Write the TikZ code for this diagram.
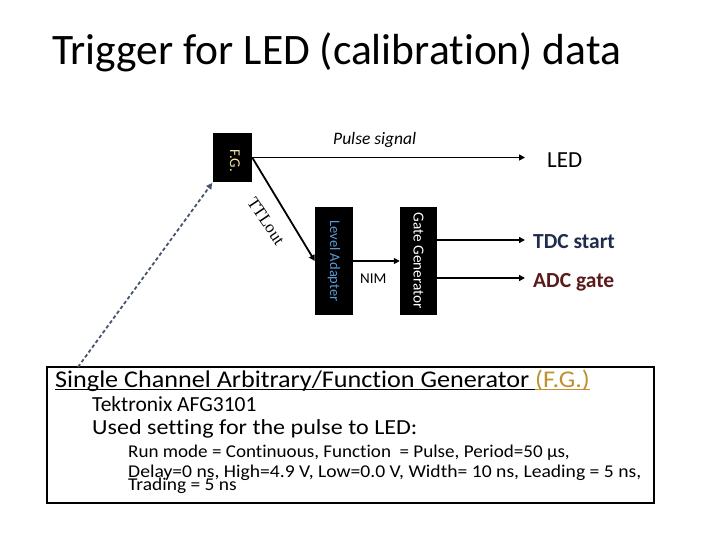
\documentclass[tikz,border=0pt]{standalone}
\usepackage{fontspec}
\setmainfont{Carlito}[Ligatures=NoCommon]
\newfontfamily\serifttl{Liberation Serif}
\usetikzlibrary{arrows.meta}
\definecolor{fgtext}{HTML}{F2E3A0}
\definecolor{latext}{HTML}{5B9BD5}
\definecolor{tdccol}{HTML}{1F2D4D}
\definecolor{adccol}{HTML}{5B1A1A}
\definecolor{goldcol}{HTML}{BF9030}
\definecolor{dashcol}{HTML}{44546A}
\tikzset{
  blackbox/.style={fill=black, draw=none, inner sep=0pt},
  arr/.style={line width=1.8pt, -{Triangle[length=6pt,width=6pt]}},
  plain/.style={inner sep=0pt, anchor=base west},
}
\newcommand{\fsz}[1]{\fontsize{#1}{#1}\selectfont}
\begin{document}
\begin{tikzpicture}[x=1pt,y=-1pt]
\useasboundingbox (0,0) rectangle (720,540);
% title
\node[plain] (title) at (52,65) {\fsz{43.5}Trigger for LED (calibration) data};
% boxes
\node[blackbox, minimum width=39pt, minimum height=49pt] (fg) at (232.5,157.5) {};
\node[inner sep=0pt] (fgl) at (235,161) {\rotatebox{-90}{\fsz{15}\color{fgtext}F.G.}};
\node[blackbox, minimum width=38pt, minimum height=108pt] (la) at (334,261)
  {\rotatebox{-90}{\fsz{14.5}\color{latext}Level Adapter}};
\node[blackbox, minimum width=37pt, minimum height=108pt] (gg) at (418.5,261)
  {\rotatebox{-90}{\fsz{15.3}\color{white}Gate Generator}};
% labels
\node[plain] (led) at (547,168) {\fsz{23}LED};
\node[plain] (pulse) at (333,145) {\fsz{17.5}\itshape Pulse signal};
\node[plain] (tdc) at (533,248) {\fsz{21.5}\bfseries\color{tdccol}TDC start};
\node[plain] (adc) at (533,287) {\fsz{21.5}\bfseries\color{adccol}ADC gate};
\node[plain] (nim) at (360,283) {\fsz{15}NIM};
\node[inner sep=0pt, rotate=-56] (ttl) at (266,221) {\fsz{17}\serifttl TTLout};
% connector ends
\coordinate (ledin) at (525,157.5);
\coordinate (tdcin) at (525,240);
\coordinate (adcin) at (525,278);
\coordinate (dstart) at (78,367);
% connectors
\draw[arr] (fg.east) -- (ledin);
\draw[arr] (fg.east) -- (la.west);
\draw[arr] (la.east) -- (gg.west);
\draw[arr] (gg.east |- tdcin) -- (tdcin);
\draw[arr] (gg.east |- adcin) -- (adcin);
% info box
\node[draw=black, line width=2pt, minimum width=607pt, minimum height=136pt, inner sep=0pt] (info) at (350.5,435) {};
\draw[dashcol, line width=1.8pt, dash pattern=on 3.5pt off 2.5pt, -{Triangle[length=6pt,width=6pt]}, shorten >=1pt] (dstart) -- (fg.south west);
\node[plain] (hA) at (55,387) {\scalebox{1.09}[1]{\fsz{24}Single Channel Arbitrary/Function Generator}};
\node[plain] (hB) at ([xshift=5.5pt]hA.base east) {\scalebox{1.09}[1]{\fsz{24}\color{goldcol}(F.G.)}};
\draw[line width=1.4pt] ([yshift=-2.5pt]hA.base west) -- ([yshift=-2.5pt]hB.base west);
\draw[goldcol, line width=1.4pt] ([yshift=-2.5pt]hB.base west) -- ([yshift=-2.5pt]hB.base east);
\node[plain] (i2) at (92,411) {\fsz{21.5}Tektronix AFG3101};
\node[plain] (i3) at (92,434) {\scalebox{1.12}[1]{\fsz{21.5}Used setting for the pulse to LED:}};
\node[plain] (i4) at (128,457) {\scalebox{1.06}[1]{\fsz{18}Run mode = Continuous, Function \ = Pulse, Period=50 µs,}};
\node[plain] (i5) at (128,477) {\scalebox{1.09}[1]{\fsz{18}Delay=0 ns, High=4.9 V, Low=0.0 V, Width= 10 ns, Leading = 5 ns,}};
\node[plain] (i6) at (128,490) {\scalebox{1.08}[1]{\fsz{18}Trading = 5 ns}};
\end{tikzpicture}
\end{document}
